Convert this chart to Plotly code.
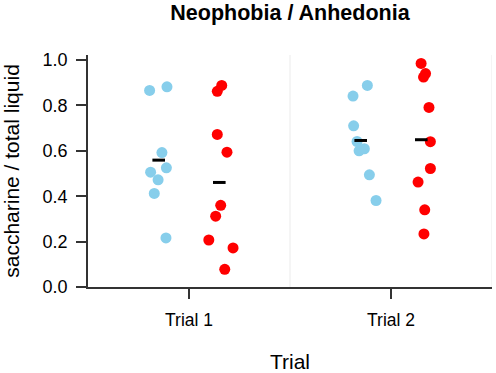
import numpy as np
import plotly.graph_objects as go

# ---- data ----
trials = ["Trial 1", "Trial 2"]

blue_t1 = [0.866, 0.882, 0.592, 0.525, 0.506, 0.472, 0.412, 0.216]
blue_t1_jit = [-0.195, -0.109, -0.134, -0.112, -0.190, -0.153, -0.172, -0.114]
red_t1 = [0.888, 0.862, 0.672, 0.594, 0.360, 0.312, 0.207, 0.172, 0.078]
red_t1_jit = [0.162, 0.140, 0.140, 0.188, 0.157, 0.132, 0.098, 0.218, 0.177]

blue_t2 = [0.888, 0.841, 0.710, 0.641, 0.600, 0.609, 0.494, 0.381]
blue_t2_jit = [-0.117, -0.188, -0.185, -0.168, -0.158, -0.132, -0.107, -0.074]
red_t2 = [0.985, 0.940, 0.925, 0.791, 0.640, 0.522, 0.462, 0.340, 0.234]
red_t2_jit = [0.149, 0.171, 0.161, 0.188, 0.195, 0.195, 0.134, 0.167, 0.163]

y_ticks = [0.0, 0.2, 0.4, 0.6, 0.8, 1.0]

# ---- styling ----
FONT = "Liberation Sans, Arial, sans-serif"
BLUE = "#87CEEB"
RED = "#FF0000"
AXIS = "#333333"
GROUP_SHIFT = 0.15

groups = [
    (0, blue_t1, blue_t1_jit, BLUE, -GROUP_SHIFT),
    (0, red_t1, red_t1_jit, RED, GROUP_SHIFT),
    (1, blue_t2, blue_t2_jit, BLUE, -GROUP_SHIFT),
    (1, red_t2, red_t2_jit, RED, GROUP_SHIFT),
]

fig = go.Figure()

for idx, vals, jit, col, shift in groups:
    xs = [idx + j for j in jit]
    fig.add_trace(go.Scatter(
        x=xs, y=vals, mode="markers",
        marker=dict(size=11, color=col, line=dict(width=0)),
        showlegend=False, hoverinfo="y",
    ))

for idx, vals, jit, col, shift in groups:
    fig.add_trace(go.Scatter(
        x=[idx + shift], y=[float(np.mean(vals))], mode="markers",
        marker=dict(symbol="line-ew", size=9, color="black",
                    line=dict(width=3, color="black")),
        showlegend=False, hoverinfo="y",
    ))

# light separators between categories
for xb in [0.5, 1.5]:
    fig.add_shape(type="line", xref="x", yref="paper", x0=xb, x1=xb, y0=0, y1=1,
                  line=dict(color="#ebebeb", width=1), layer="below")

fig.update_layout(
    width=496, height=373,
    margin=dict(l=88, r=4, t=55, b=86, autoexpand=False),
    paper_bgcolor="white", plot_bgcolor="white",
    font=dict(family=FONT, color="black"),
    title=dict(text="<b>Neophobia / Anhedonia</b>", x=0.5, xref="paper",
               y=1, yref="container", yanchor="top", pad=dict(t=5),
               font=dict(size=21.5, family=FONT, color="black")),
)

fig.update_xaxes(
    range=[-0.5, 1.5], tickvals=[0, 1], ticktext=trials,
    ticks="outside", ticklen=10, tickwidth=1.5, tickcolor=AXIS,
    showline=True, linecolor=AXIS, linewidth=1.5,
    showgrid=False, zeroline=False, automargin=False,
    tickfont=dict(size=17.5, family=FONT, color="black"),
    ticklabelstandoff=6,
    title=dict(text="Trial", font=dict(size=21, family=FONT, color="black"), standoff=27),
)

fig.update_yaxes(
    range=[0, 1.022], tickvals=y_ticks, tickformat=".1f",
    ticks="outside", ticklen=10, tickwidth=1.5, tickcolor=AXIS,
    showline=True, linecolor=AXIS, linewidth=1.5,
    showgrid=False, zeroline=False, automargin=False,
    tickfont=dict(size=18, family=FONT, color="black"),
    ticklabelstandoff=5,
    title=dict(text="saccharine / total liquid", font=dict(size=21, family=FONT, color="black"), standoff=17),
)

fig.write_html("out.html", config={"displayModeBar": False},
               post_script="document.body.style.margin='0';")
